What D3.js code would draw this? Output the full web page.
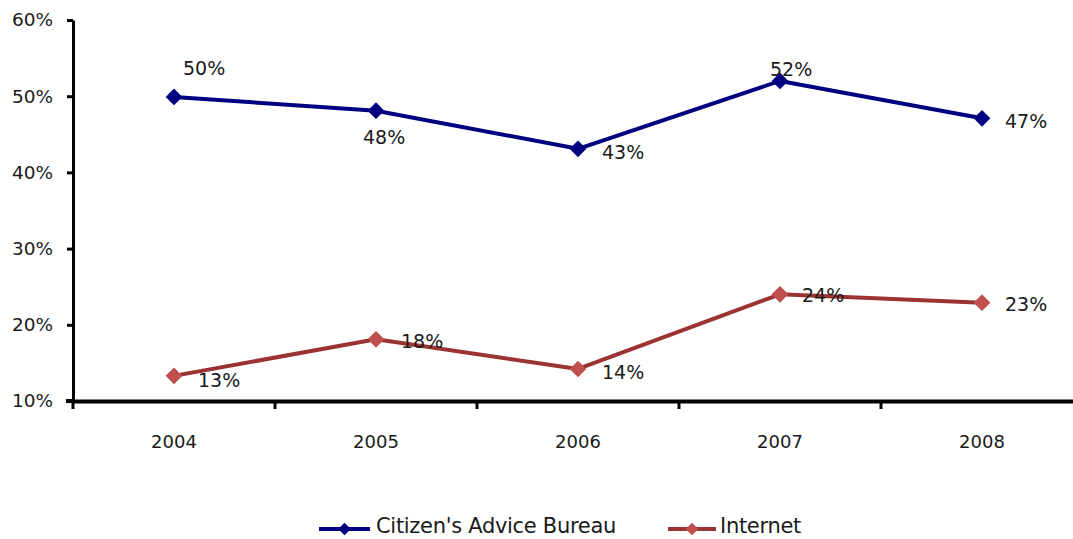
<!DOCTYPE html>
<html><head><meta charset="utf-8">
<script src="https://cdn.jsdelivr.net/npm/d3@7"></script>
<style>body{margin:0;background:#fff}svg{display:block}text{font-family:"DejaVu Sans",sans-serif;fill:#1a1a1a}</style>
</head><body><svg id="c" width="1073" height="539"></svg>
<script>
const years = ["2004","2005","2006","2007","2008"];
const cab = [49.9, 48.1, 43.1, 52.0, 47.1];
const internet = [13.3, 18.1, 14.2, 24.0, 22.9];
const cabLabels = ["50%","48%","43%","52%","47%"];
const internetLabels = ["13%","18%","14%","24%","23%"];
const yTicks = [10,20,30,40,50,60];
const seriesNames = ["Citizen's Advice Bureau","Internet"];

const svg = d3.select("#c");
const x = d3.scaleBand().domain(years).range([73, 1083]);
const y = d3.scaleLinear().domain([10, 60]).range([401, 20]);

const yAxis = svg.append("g").attr("transform","translate(73,0)")
  .call(d3.axisLeft(y).tickValues(yTicks).tickFormat(d=>d+"%").tickSize(6).tickSizeOuter(0));
yAxis.attr("font-family",null).attr("font-size",null);
yAxis.select(".domain").attr("stroke","#000").attr("stroke-width",3);
yAxis.selectAll(".tick line").attr("stroke","#000").attr("stroke-width",3);
yAxis.selectAll(".tick text").attr("x",-20).style("font-size","18.5px").attr("fill","#1a1a1a");

const xAxis = svg.append("g").attr("transform","translate(0,401)")
  .call(d3.axisBottom(x).tickSize(0).tickSizeOuter(0));
xAxis.attr("font-family",null).attr("font-size",null);
xAxis.select(".domain").attr("stroke","#000").attr("stroke-width",4);
xAxis.selectAll(".tick text").attr("dy","0").attr("y",47).style("font-size","18px").attr("fill","#1a1a1a");
svg.append("g").selectAll("line").data(years).join("line")
  .attr("x1",d=>x(d)).attr("x2",d=>x(d)).attr("y1",401).attr("y2",409)
  .attr("stroke","#000").attr("stroke-width",3);
svg.append("line").attr("x1",66).attr("x2",73).attr("y1",401).attr("y2",401).attr("stroke","#000").attr("stroke-width",4);

const cx = d => x(d) + x.bandwidth()/2;

function series(vals, lineColor, markColor, labels, offs) {
  const pts = years.map((d,i)=>[cx(d), y(vals[i])]);
  svg.append("path").attr("d", d3.line()(pts)).attr("fill","none")
    .attr("stroke",lineColor).attr("stroke-width",4).attr("stroke-linejoin","round");
  svg.append("g").selectAll("path").data(pts).join("path")
    .attr("d", d3.symbol().type(d3.symbolSquare).size(140)())
    .attr("transform",p=>`translate(${p[0]},${p[1]}) rotate(45)`)
    .attr("fill",markColor);
  svg.append("g").selectAll("text").data(pts).join("text")
    .attr("x",(p,i)=>p[0]+offs[i][0]).attr("y",(p,i)=>p[1]+offs[i][1])
    .style("font-size","19px").text((p,i)=>labels[i]);
}
series(cab, "#000080", "#000080", cabLabels, [[9,-22],[-13,33],[24,10],[-10,-5],[23,10]]);
series(internet, "#9b3333", "#c0504d", internetLabels, [[24,11],[25,9],[24,10],[22,8],[23,8]]);

const lg = svg.append("g");
const items = [
  {name: seriesNames[0], line:"#000080", mark:"#000080", x1:319, x2:370, tx:376},
  {name: seriesNames[1], line:"#9b3333", mark:"#c0504d", x1:668, x2:716, tx:720}
];
items.forEach(it=>{
  lg.append("line").attr("x1",it.x1).attr("x2",it.x2).attr("y1",529).attr("y2",529)
    .attr("stroke",it.line).attr("stroke-width",4);
  lg.append("path").attr("d", d3.symbol().type(d3.symbolSquare).size(80)())
    .attr("transform",`translate(${(it.x1+it.x2)/2},529) rotate(45)`).attr("fill",it.mark);
  lg.append("text").attr("x",it.tx).attr("y",533).style("font-size","21px")
    .style("letter-spacing","-0.3px").text(it.name);
});
</script></body></html>
